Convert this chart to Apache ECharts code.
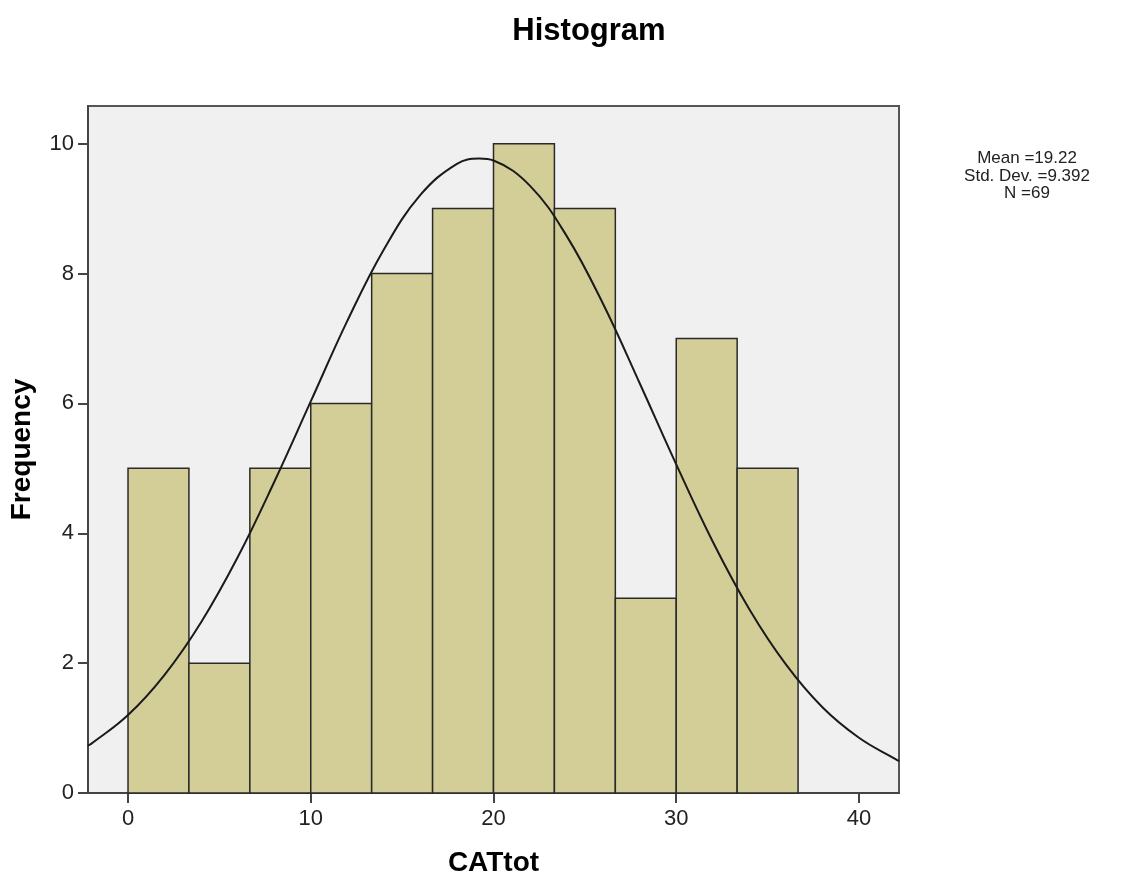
<!DOCTYPE html>
<html><head><meta charset="utf-8">
<script src="https://cdn.jsdelivr.net/npm/echarts@6/dist/echarts.min.js"></script>
<style>html,body{margin:0;padding:0;background:#fff}#c{width:1133px;height:882px}</style>
</head><body><div id="c"></div>
<script>
const binStarts = [0, 3.333, 6.667, 10, 13.333, 16.667, 20, 23.333, 26.667, 30, 33.333];
const binEnds   = [3.333, 6.667, 10, 13.333, 16.667, 20, 23.333, 26.667, 30, 33.333, 36.667];
const counts    = [5, 2, 5, 6, 8, 9, 10, 9, 3, 7, 5];
const curveX = [-2.2, -2, 0, 2, 4, 6, 8, 10, 12, 14, 16, 18, 19.22, 20, 22, 24, 26, 28, 30, 32, 34, 36, 38, 40, 42, 42.2];
const curveY = [0.73, 0.76, 1.20, 1.82, 2.63, 3.63, 4.79, 6.03, 7.27, 8.37, 9.21, 9.69, 9.77, 9.74, 9.35, 8.58, 7.53, 6.31, 5.06, 3.87, 2.83, 1.98, 1.32, 0.85, 0.52, 0.49];
const xTicks = [0, 10, 20, 30, 40];
const yTicks = [0, 2, 4, 6, 8, 10];
const statsLines = ['Mean =19.22', 'Std. Dev. =9.392', 'N =69'];

const chart = echarts.init(document.getElementById('c'), null, {renderer: 'canvas'});
const FONT = '"Liberation Sans", Arial, sans-serif';
chart.setOption({
  animation: false,
  title: {text: 'Histogram', left: 584, top: 11, textAlign: 'center',
    textStyle: {fontFamily: FONT, fontSize: 31, fontWeight: 'bold', color: '#000'}},
  grid: {left: 87, right: 234, top: 106, bottom: 86, show: true,
    backgroundColor: '#f0f0f0', borderColor: '#555', borderWidth: 2},
  xAxis: {type: 'value', min: -2.19, max: 42.19,
    name: 'CATtot', nameLocation: 'middle', nameGap: 56,
    nameTextStyle: {fontFamily: FONT, fontSize: 28, fontWeight: 'bold', color: '#000'},
    axisLine: {show: true, onZero: false, lineStyle: {color: '#444', width: 2}},
    axisTick: {show: true, length: 10, inside: false, customValues: xTicks, lineStyle: {color: '#444', width: 2}},
    axisLabel: {customValues: xTicks, margin: 15, fontFamily: FONT, fontSize: 22, color: '#222'},
    splitLine: {show: false}},
  yAxis: {type: 'value', min: 0, max: 10.58,
    name: 'Frequency', nameLocation: 'middle', nameGap: 52,
    nameTextStyle: {fontFamily: FONT, fontSize: 28, fontWeight: 'bold', color: '#000'},
    axisLine: {show: true, onZero: false, lineStyle: {color: '#444', width: 2}},
    axisTick: {show: true, length: 10, inside: false, customValues: yTicks, lineStyle: {color: '#444', width: 2}},
    axisLabel: {customValues: yTicks, margin: 14, fontFamily: FONT, fontSize: 22, color: '#222'},
    splitLine: {show: false}},
  graphic: [{type: 'text', x: 1027, y: 150,
    style: {text: statsLines.join('\n'), fontFamily: FONT, fontSize: 17, lineHeight: 17.5,
      fill: '#222', align: 'center', verticalAlign: 'top'}}],
  series: [
    {type: 'custom', data: counts.map((c, i) => [binStarts[i], binEnds[i], c]),
      renderItem: (params, api) => {
        const p0 = api.coord([api.value(0), api.value(2)]);
        const p1 = api.coord([api.value(1), 0]);
        return {type: 'rect', shape: {x: p0[0], y: p0[1], width: p1[0] - p0[0], height: p1[1] - p0[1]},
          style: {fill: '#d3ce97', stroke: '#2a2a2a', lineWidth: 1.5}};
      }, z: 2},
    {type: 'line', data: curveX.map((x, i) => [x, curveY[i]]), smooth: 0.4, showSymbol: false,
      lineStyle: {color: '#1a1a1a', width: 2}, z: 3}
  ]
});
</script></body></html>
